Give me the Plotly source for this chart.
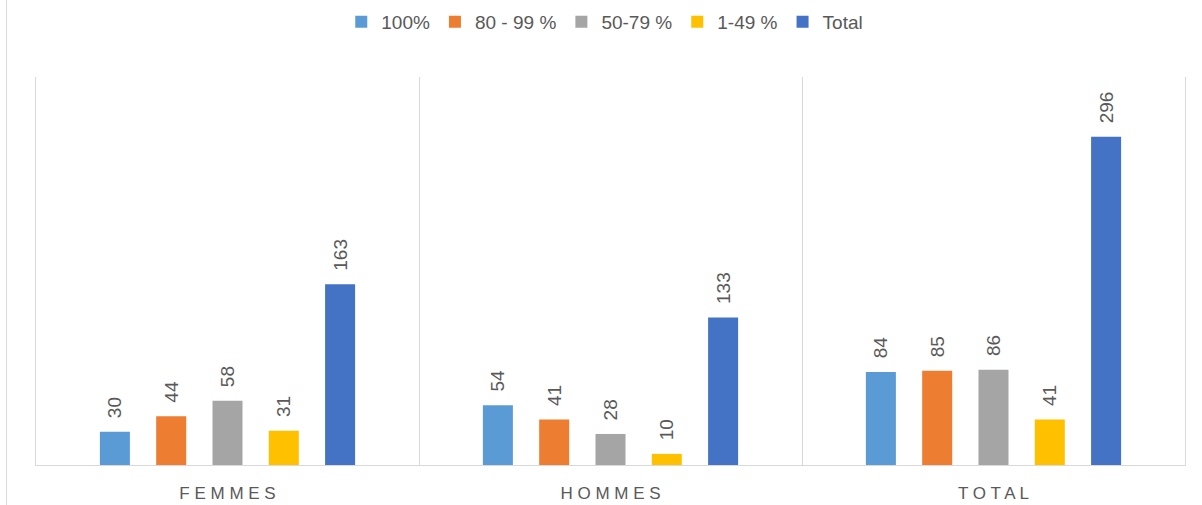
import plotly.graph_objects as go

categories = ["FEMMES", "HOMMES", "TOTAL"]
cat_labels = [" ".join(c) for c in categories]
series_names = ["100%", "80 - 99 %", "50-79 %", "1-49 %", "Total"]
v_100 = [30, 54, 84]
v_80_99 = [44, 41, 85]
v_50_79 = [58, 28, 86]
v_1_49 = [31, 10, 41]
v_total = [163, 133, 296]
series_values = [v_100, v_80_99, v_50_79, v_1_49, v_total]
colors = ["#5B9BD5", "#ED7D31", "#A5A5A5", "#FFC000", "#4472C4"]

FONT = "Liberation Sans"
TXT = "#595959"
GRID = "#D9D9D9"

fig = go.Figure()
for name, vals, col in zip(series_names, series_values, colors):
    fig.add_trace(go.Bar(
        name=name, x=cat_labels, y=vals,
        marker=dict(color=col, line=dict(width=0)),
        texttemplate="\u00a0\u00a0%{y}", textposition="outside",
        textangle=-90, cliponaxis=False, constraintext="none",
        textfont=dict(family=FONT, size=19, color=TXT),
    ))

fig.update_layout(
    width=1202, height=505,
    margin=dict(l=36, r=17, t=77, b=40, autoexpand=False),
    paper_bgcolor="white", plot_bgcolor="white",
    barmode="group", bargap=0.265, bargroupgap=0.467,
    font=dict(family=FONT, color=TXT),
    legend=dict(orientation="h", x=0.495, xanchor="center", y=1.142, yanchor="middle",
                font=dict(family=FONT, size=19, color=TXT), itemwidth=30,
                traceorder="normal"),
)
fig.update_xaxes(
    type="category", tickson="boundaries", showgrid=True, gridcolor=GRID, gridwidth=1,
    showline=True, linecolor=GRID, linewidth=1, ticks="",
    tickfont=dict(family=FONT, size=17, color=TXT), ticklabelstandoff=13,
)
fig.update_yaxes(range=[0, 350], showgrid=False, zeroline=False, showticklabels=False,
                 showline=True, mirror=True, linecolor=GRID, linewidth=1, ticks="")

fig.add_shape(type="line", xref="paper", yref="paper",
              x0=-0.0257, x1=-0.0257, y0=-0.11, y1=1.2,
              line=dict(color=GRID, width=1))

fig.write_html("out.html", config={"displayModeBar": False},
               post_script="document.body.style.margin='0';document.body.style.overflow='hidden';")
